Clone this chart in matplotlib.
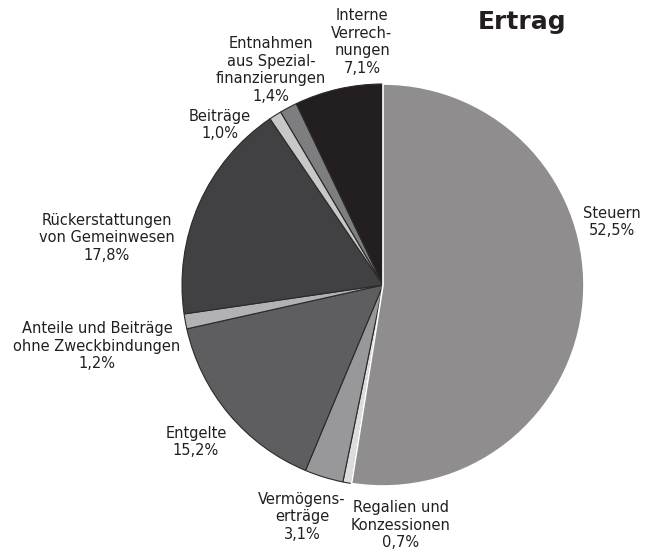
import matplotlib.pyplot as plt

labels = ['Steuern\n52,5%', 'Regalien und\nKonzessionen\n0,7%', 'Vermögens-\nerträge\n3,1%',
          'Entgelte\n15,2%', 'Anteile und Beiträge\nohne Zweckbindungen\n1,2%',
          'Rückerstattungen\nvon Gemeinwesen\n17,8%', 'Beiträge\n1,0%',
          'Entnahmen\naus Spezial-\nfinanzierungen\n1,4%', 'Interne\nVerrech-\nnungen\n7,1%']
values = [52.5, 0.7, 3.1, 15.2, 1.2, 17.8, 1.0, 1.4, 7.1]
colors = ['#8f8d8d', '#dcdcdc', '#98979a', '#5e5e60', '#b2b2b4', '#414143', '#c8c8c8', '#7e7e80', '#231f20']
# label centres in pixels of the reference (x, y from top)
label_px = [(612, 222), (401, 525), (302, 517), (196, 442), (97, 346),
            (107, 238), (220, 125), (271, 70), (362, 42)]

W, H = 655, 549
cx, cy, r = 383, 285, 201

fig = plt.figure(figsize=(W / 100, H / 100), dpi=100)
ax = fig.add_axes([(cx - r) / W, (H - cy - r) / H, 2 * r / W, 2 * r / H])
wedges, _ = ax.pie(values, colors=colors, startangle=90, counterclock=False, radius=1,
                   wedgeprops=dict(edgecolor='#2a2a2a', linewidth=0.8))
# Steuern has a white outline drawn over its neighbours
wedges[0].set_edgecolor('white')
wedges[0].set_linewidth(1.2)
wedges[0].set_zorder(5)
ax.set_xlim(-1, 1)
ax.set_ylim(-1, 1)
ax.set_aspect('equal')
ax.axis('off')

for lab, (px, py) in zip(labels, label_px):
    fig.text(px / W, 1 - py / H, lab, ha='center', va='center', fontsize=10.5,
             color='#231f20', linespacing=1.2, multialignment='center')

fig.text(522 / W, 1 - 22 / H, 'Ertrag', ha='center', va='center', fontsize=18,
         fontweight='bold', color='#231f20')

fig.savefig('out.png', dpi=100)
